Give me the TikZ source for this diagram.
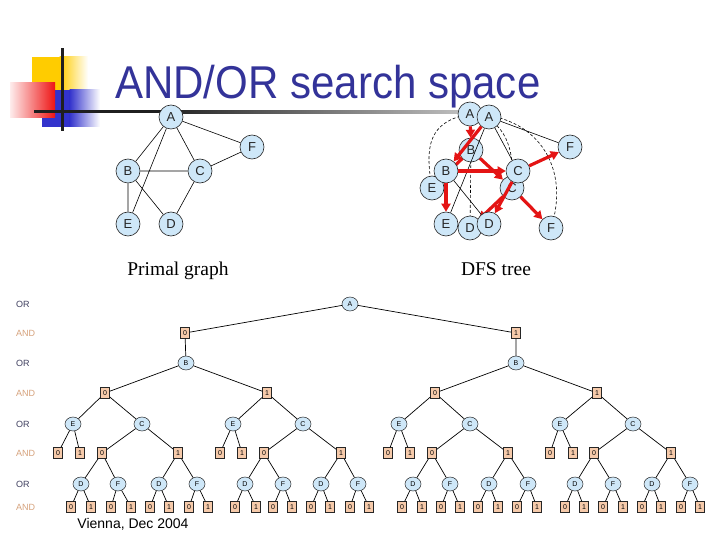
\documentclass[tikz,border=0pt]{standalone}
\usepackage{graphicx}
\usepackage{fontspec}
\setmainfont{Liberation Sans}
\newfontfamily\serifont{Liberation Serif}
\usetikzlibrary{arrows.meta,shapes.geometric}
\definecolor{titleblue}{RGB}{51,51,153}
\definecolor{nodeblue}{RGB}{206,231,248}
\definecolor{andfill}{RGB}{246,202,170}
\definecolor{andtext}{RGB}{214,162,124}
\definecolor{ortext}{RGB}{64,64,96}
\definecolor{redc}{RGB}{228,20,20}
\definecolor{logoyellow}{RGB}{255,204,0}
\definecolor{logoblue}{RGB}{51,51,204}
\definecolor{logored}{RGB}{238,20,20}
\begin{document}
\begin{tikzpicture}[x=1pt,y=-1pt,
  pnode/.style={circle,draw=black!85,line width=0.6pt,fill=nodeblue,minimum size=24pt,inner sep=0pt,text=black!85,font=\fontsize{13}{13}\selectfont},
  ornode/.style={ellipse,draw=black!85,line width=0.5pt,fill=nodeblue,minimum width=16pt,minimum height=14pt,inner sep=0pt,font=\fontsize{7}{7}\selectfont},
  andnode/.style={rectangle,draw=black!85,line width=0.5pt,fill=andfill,minimum width=9pt,minimum height=11pt,inner sep=0pt,font=\fontsize{7}{7}\selectfont},
  tedge/.style={line width=0.7pt},
  gedge/.style={line width=0.6pt},
  backedge/.style={line width=0.6pt,dash pattern=on 3pt off 2pt},
  redarr/.style={draw=redc,line width=3.2pt,-{Triangle[length=8pt,width=9pt]}},
  rowor/.style={anchor=west,inner sep=0pt,text=ortext,font=\fontsize{9}{9}\selectfont},
  rowand/.style={anchor=west,inner sep=0pt,text=andtext,font=\fontsize{9}{9}\selectfont}
]
\useasboundingbox (0,0) rectangle (720,540);
\fill[white] (0,0) rectangle (720,540);

% ---- logo ----
\fill[logoyellow] (32,57) rectangle (60,100);
\shade[left color=logoyellow,right color=white] (59.5,57) rectangle (88,100);
\fill[logoblue] (42,90) rectangle (70,127);
\shade[left color=logoblue,right color=white] (69.5,90) rectangle (100,127);
\shade[left color=logored!8,right color=logored] (10,83) rectangle (55,118);
\fill[black!88] (61,48) rectangle (63.5,131);
\fill[black!88] (34,110.5) rectangle (160,113.5);
\shade[left color=black!88,right color=black!22] (159.5,110.5) rectangle (478,113.5);

% ---- title ----
\node[anchor=base west,inner sep=0pt,text=titleblue,font=\fontsize{46}{46}\selectfont] (title) at (115,99) {\scalebox{0.914}[1]{AND/OR search space}};

% ---- primal graph ----
\node[pnode] (pA) at (171,117) {A};
\node[pnode] (pF) at (252,147) {F};
\node[pnode] (pB) at (128,171) {B};
\node[pnode] (pC) at (200,171) {C};
\node[pnode] (pE) at (128,224) {E};
\node[pnode] (pD) at (171,224) {D};
\draw[gedge] (pA) -- (pB) (pA) -- (pC) (pA) -- (pF) (pA) -- (pE) (pB) -- (pC) (pC) -- (pF) (pB) -- (pE) (pB) -- (pD) (pC) -- (pD);
\node[anchor=base,inner sep=0pt,font=\serifont\fontsize{19.5}{19.5}\selectfont] (plabel) at (178,275) {Primal graph};

% ---- DFS tree: tree layout (behind) ----
\coordinate (tAc) at (470,114);
\coordinate (tEc) at (432,188);
\coordinate (tCc) at (512,188);
\coordinate (tFc) at (551,228);
\draw[backedge] (tAc) to[out=190,in=100,looseness=1.3] (tEc);
\draw[backedge] (tAc) to[out=-5,in=85,looseness=1.1] (tCc);
\draw[backedge] (tAc) to[out=0,in=72,looseness=1.2] (tFc);
\draw[backedge] (471,150) -- (470,228);
\node[pnode] (tA) at (470,114) {A};
\node[pnode] (tB) at (471,150) {B};
\node[pnode] (tE) at (432,188) {E};
\node[pnode] (tC) at (512,188) {C};
\node[pnode] (tD) at (470,228) {D};
\node[pnode] (tF) at (551,228) {F};
\draw[redarr] (tA) -- (tB);
\draw[redarr] (tB) -- (tE);
\draw[redarr] (tB) -- (tC);
\draw[redarr] (tC) -- (tD);
\draw[redarr] (tC) -- (tF);

% ---- DFS tree: primal copy (front) ----
\node[pnode] (qA) at (489,117) {A};
\node[pnode] (qF) at (570,147) {F};
\node[pnode] (qB) at (446,171) {B};
\node[pnode] (qC) at (518,171) {C};
\node[pnode] (qE) at (446,224) {E};
\node[pnode] (qD) at (489,224) {D};
\draw[gedge] (qA) -- (qF) (qA) -- (qC) (qA) -- (qE) (qB) -- (qD);
\draw[redarr] (qA) -- (qB);
\draw[redarr] (qB) -- (qC);
\draw[redarr] (qB) -- (qE);
\draw[redarr] (qC) -- (qD);
\draw[redarr] (qC) -- (qF);
\node[anchor=base,inner sep=0pt,font=\serifont\fontsize{19.5}{19.5}\selectfont] (dlabel) at (496,275) {DFS tree};

% ---- row labels ----
\node[rowor] (l1) at (16,304) {OR};
\node[rowand] (l2) at (16,333) {AND};
\node[rowor] (l3) at (16,363) {OR};
\node[rowand] (l4) at (16,393) {AND};
\node[rowor] (l5) at (16,424) {OR};
\node[rowand] (l6) at (16,453) {AND};
\node[rowor] (l7) at (16,484) {OR};
\node[rowand] (l8) at (16,507) {AND};

% ---- AND/OR search tree ----
\node[ornode] (r) at (350,304) {A};
\node[andnode] (a0) at (185,333) {0};
\node[andnode] (a1) at (516,333) {1};
\node[ornode] (bb0) at (186,363) {B};
\node[ornode] (bb1) at (516,363) {B};
\node[andnode] (b00) at (105,393) {0};
\node[andnode] (b01) at (267,393) {1};
\node[andnode] (b10) at (435,393) {0};
\node[andnode] (b11) at (597,393) {1};
\draw[tedge] (r) -- (a0) (r) -- (a1) (a0) -- (bb0) (a1) -- (bb1)
  (bb0) -- (b00) (bb0) -- (b01) (bb1) -- (b10) (bb1) -- (b11);

\foreach \p/\ex/\cx/\ea/\eb/\ca/\cb/\da/\fa/\db/\fb/\la/\lb/\lc/\ld/\le/\lf/\lg/\lh in {
 b00/73/142/58/80/102/178/81/118/159/197/71/91/111/131/150/169/189/208,
 b01/233/303/220/242/264/341/245/283/321/358/235/256/273/292/311/330/350/369,
 b10/399/470/388/410/432/508/413/450/489/528/402/422/441/460/478/498/517/537,
 b11/560/633/550/573/594/671/575/613/652/690/565/584/603/623/642/661/681/700}
{
 \node[ornode] (E\p) at (\ex,424) {E};
 \node[ornode] (C\p) at (\cx,424) {C};
 \node[andnode] (Ea\p) at (\ea,453) {0};
 \node[andnode] (Eb\p) at (\eb,453) {1};
 \node[andnode] (Ca\p) at (\ca,453) {0};
 \node[andnode] (Cb\p) at (\cb,453) {1};
 \node[ornode] (Da\p) at (\da,484) {D};
 \node[ornode] (Fa\p) at (\fa,484) {F};
 \node[ornode] (Db\p) at (\db,484) {D};
 \node[ornode] (Fb\p) at (\fb,484) {F};
 \node[andnode] (La\p) at (\la,507) {0};
 \node[andnode] (Lb\p) at (\lb,507) {1};
 \node[andnode] (Lc\p) at (\lc,507) {0};
 \node[andnode] (Ld\p) at (\ld,507) {1};
 \node[andnode] (Le\p) at (\le,507) {0};
 \node[andnode] (Lf\p) at (\lf,507) {1};
 \node[andnode] (Lg\p) at (\lg,507) {0};
 \node[andnode] (Lh\p) at (\lh,507) {1};
 \draw[tedge] (\p) -- (E\p) (\p) -- (C\p)
   (E\p) -- (Ea\p) (E\p) -- (Eb\p) (C\p) -- (Ca\p) (C\p) -- (Cb\p)
   (Ca\p) -- (Da\p) (Ca\p) -- (Fa\p) (Cb\p) -- (Db\p) (Cb\p) -- (Fb\p)
   (Da\p) -- (La\p) (Da\p) -- (Lb\p) (Fa\p) -- (Lc\p) (Fa\p) -- (Ld\p)
   (Db\p) -- (Le\p) (Db\p) -- (Lf\p) (Fb\p) -- (Lg\p) (Fb\p) -- (Lh\p);
}

\node[anchor=base,inner sep=0pt,font=\fontsize{14}{14}\selectfont] (vienna) at (133,528) {Vienna, Dec 2004};
\end{tikzpicture}
\end{document}
